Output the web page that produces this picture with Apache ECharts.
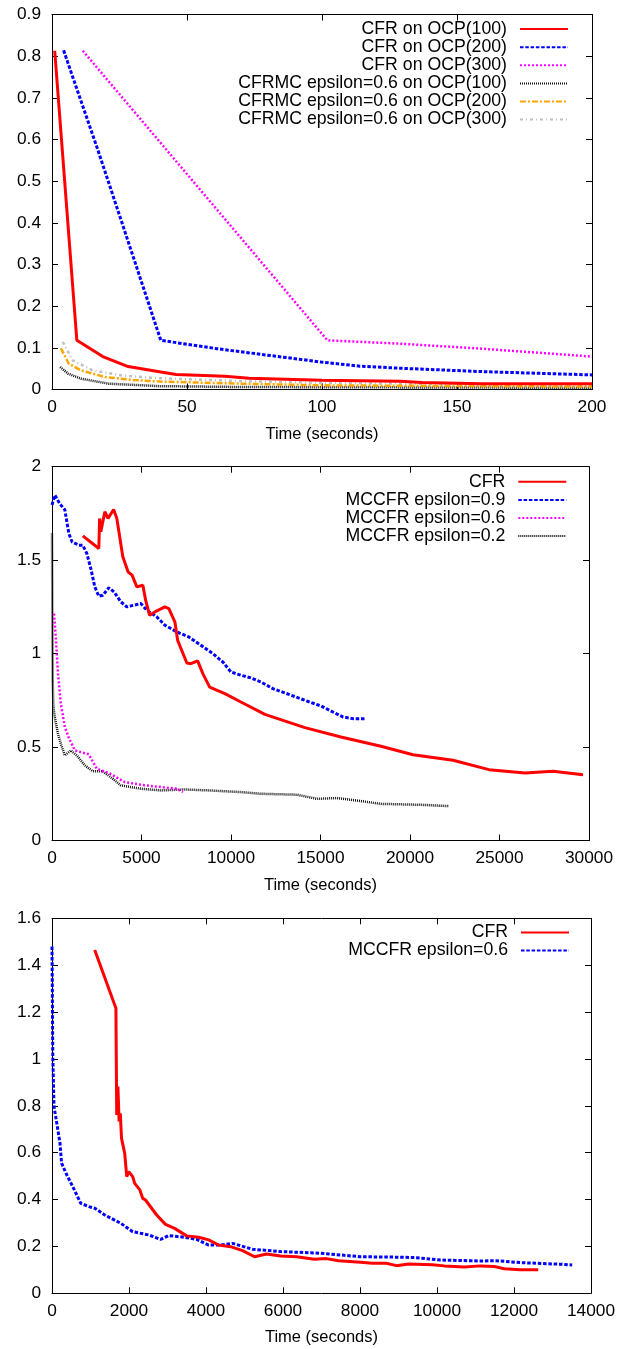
<!DOCTYPE html>
<html>
<head>
<meta charset="utf-8">
<script src="https://cdn.jsdelivr.net/npm/echarts@6/dist/echarts.min.js"></script>
<style>
  html, body { margin: 0; padding: 0; background: #fff; }
  #main { width: 628px; height: 1349px; }
</style>
</head>
<body>
<div id="main"></div>
<script>
// chart 1: OCP, seconds 0..200
var cfr100 = [[1, 0.813], [9.2, 0.118], [18.8, 0.079], [28.2, 0.055], [40.3, 0.042], [46, 0.036], [64, 0.032], [73, 0.027], [100, 0.022], [129, 0.020], [137, 0.017], [159, 0.014], [200, 0.014]];
var cfr200 = [[4.3, 0.814], [17.5, 0.565], [30, 0.32], [40.3, 0.118], [61, 0.098], [99.6, 0.066], [114, 0.056], [129, 0.051], [159, 0.043], [200, 0.035]];
var cfr300 = [[11.4, 0.813], [102, 0.118], [129, 0.110], [159, 0.098], [200, 0.079]];
var mc100 = [[3, 0.054], [6, 0.038], [10.7, 0.026], [21, 0.014], [40, 0.008], [70, 0.006], [200, 0.004]];
var mc200 = [[3.3, 0.099], [6.2, 0.062], [10.7, 0.046], [19.6, 0.030], [30, 0.023], [40, 0.019], [70, 0.014], [100, 0.010], [129, 0.009], [200, 0.007]];
var mc300 = [[4, 0.114], [7.7, 0.070], [15, 0.046], [25.5, 0.034], [40, 0.027], [70, 0.020], [100, 0.016], [129, 0.014], [200, 0.011]];

// chart 2: seconds 0..30000
var cfrB = [[1721, 1.630], [2616, 1.5625], [2660, 1.723], [2727, 1.652], [2951, 1.759], [3130, 1.723], [3443, 1.771], [3622, 1.723], [3957, 1.518], [4248, 1.4375], [4472, 1.42], [4740, 1.357], [5075, 1.366], [5231, 1.286], [5455, 1.205], [5746, 1.223], [6305, 1.25], [6529, 1.241], [6864, 1.17], [7020, 1.071], [7534, 0.95], [7758, 0.946], [8138, 0.961], [8428, 0.893], [8808, 0.821], [9658, 0.786], [10552, 0.741], [11893, 0.675], [14129, 0.604], [16141, 0.554], [18377, 0.504], [20166, 0.459], [22401, 0.429], [24413, 0.379], [26425, 0.361], [27990, 0.371], [29667, 0.352]];
var mc09 = [[0, 1.795], [156, 1.848], [447, 1.80], [715, 1.77], [939, 1.643], [1118, 1.598], [1498, 1.58], [1721, 1.58], [1945, 1.536], [2169, 1.455], [2392, 1.357], [2616, 1.307], [2839, 1.3125], [3175, 1.352], [3465, 1.33], [3845, 1.277], [4181, 1.25], [4963, 1.268], [5299, 1.232], [5858, 1.196], [6305, 1.152], [6975, 1.116], [7646, 1.089], [8317, 1.045], [8987, 1.0], [9546, 0.955], [9993, 0.902], [10552, 0.884], [11111, 0.87], [11670, 0.848], [12341, 0.8125], [13235, 0.782], [14129, 0.75], [15024, 0.72], [15695, 0.6875], [16253, 0.661], [16812, 0.652], [17527, 0.652]];
var mc06 = [[112, 1.214], [224, 1.071], [335, 0.893], [492, 0.732], [715, 0.607], [939, 0.55], [1274, 0.482], [1610, 0.473], [2057, 0.461], [2504, 0.384], [3175, 0.361], [4069, 0.3125], [5187, 0.295], [6081, 0.286], [6975, 0.277], [7310, 0.259]];
var mc02 = [[0, 1.643], [20, 1.2], [40, 0.85], [80, 0.714], [156, 0.66], [335, 0.571], [492, 0.518], [715, 0.455], [1051, 0.482], [1386, 0.455], [1833, 0.402], [2280, 0.37], [2839, 0.37], [3398, 0.33], [3845, 0.295], [4963, 0.277], [6081, 0.268], [7422, 0.273], [8764, 0.268], [10552, 0.259], [11670, 0.25], [13682, 0.245], [14800, 0.223], [15918, 0.227], [17260, 0.211], [18377, 0.196], [20613, 0.191], [22178, 0.184]];

// chart 3: seconds 0..14000
var cfrC = [[1110, 1.465], [1660, 1.216], [1681, 0.761], [1712, 0.882], [1743, 0.733], [1774, 0.768], [1806, 0.661], [1889, 0.597], [1941, 0.498], [1993, 0.519], [2096, 0.498], [2148, 0.469], [2283, 0.441], [2356, 0.405], [2428, 0.398], [2719, 0.334], [2947, 0.294], [3186, 0.277], [3497, 0.245], [3809, 0.239], [4068, 0.228], [4328, 0.206], [4639, 0.199], [4950, 0.182], [5262, 0.156], [5573, 0.168], [5936, 0.159], [6351, 0.156], [6818, 0.145], [7130, 0.148], [7441, 0.139], [8012, 0.132], [8323, 0.128], [8686, 0.128], [8946, 0.118], [9257, 0.125], [9880, 0.122], [10191, 0.117], [10710, 0.112], [11125, 0.117], [11489, 0.114], [11748, 0.105], [12163, 0.101], [12630, 0.1]];
var mcC = [[0, 1.48], [21, 1.01], [52, 0.797], [125, 0.725], [208, 0.64], [249, 0.555], [384, 0.505], [540, 0.455], [747, 0.384], [955, 0.37], [1110, 0.363], [1370, 0.334], [1785, 0.299], [2096, 0.263], [2511, 0.249], [2823, 0.23], [3030, 0.246], [3446, 0.239], [3757, 0.23], [4068, 0.206], [4380, 0.206], [4691, 0.213], [5210, 0.188], [5936, 0.178], [6974, 0.171], [8012, 0.156], [9049, 0.154], [9465, 0.152], [10087, 0.142], [11125, 0.138], [11540, 0.139], [12163, 0.131], [13201, 0.124], [13512, 0.121]];

var names1 = ['CFR on OCP(100)', 'CFR on OCP(200)', 'CFR on OCP(300)', 'CFRMC epsilon=0.6 on OCP(100)', 'CFRMC epsilon=0.6 on OCP(200)', 'CFRMC epsilon=0.6 on OCP(300)'];
var names2 = ['CFR', 'MCCFR epsilon=0.9', 'MCCFR epsilon=0.6', 'MCCFR epsilon=0.2'];
var names3 = ['CFR ', 'MCCFR epsilon=0.6 '];

var FONT = 'Liberation Sans, Arial, sans-serif';

var myChart = echarts.init(document.getElementById('main'));

function tickText(v) {
    return String(+v.toFixed(4));
}

function axisBase(grid, max, interval) {
    return {
        gridIndex: grid, type: 'value', min: 0, max: max, interval: interval,
        axisLine: { show: true, onZero: false, lineStyle: { color: '#000', width: 1 } },
        axisTick: { show: true, inside: true, length: 6, lineStyle: { color: '#000' } },
        splitLine: { show: false }
    };
}

function xAxes(grid, max, interval) {
    var bottom = echarts.util.merge({
        position: 'bottom',
        name: 'Time (seconds)', nameLocation: 'middle', nameGap: 36,
        nameTextStyle: { color: '#000', fontSize: 16.5, fontFamily: FONT },
        axisLabel: { color: '#000', fontSize: 17.3, fontFamily: FONT, margin: 9, formatter: tickText }
    }, axisBase(grid, max, interval), true);
    var top = echarts.util.merge({ position: 'top', axisLabel: { show: false } }, axisBase(grid, max, interval), true);
    return [bottom, top];
}

function yAxes(grid, max, interval) {
    var left = echarts.util.merge({
        position: 'left',
        axisLabel: { color: '#000', fontSize: 17.3, fontFamily: FONT, margin: 11, formatter: tickText }
    }, axisBase(grid, max, interval), true);
    var right = echarts.util.merge({ position: 'right', axisLabel: { show: false } }, axisBase(grid, max, interval), true);
    return [left, right];
}

function line(name, grid, data, color, width, dash) {
    return {
        name: name, type: 'line', xAxisIndex: grid * 2, yAxisIndex: grid * 2,
        data: data, symbol: 'none', smooth: false,
        lineStyle: { color: color, width: width, type: dash, cap: 'butt' },
        itemStyle: { color: color }
    };
}

function legend(names, top, right) {
    return {
        data: names, orient: 'vertical', align: 'right',
        right: right, top: top, padding: 0, itemGap: 0.1,
        itemWidth: 48, itemHeight: 10,
        itemStyle: { opacity: 0 },
        textStyle: { color: '#000', fontSize: 17.7, fontFamily: FONT, padding: [0, 8, 0, 0] },
        formatter: function (n) { return n.trim(); }
    };
}

var option = {
    animation: false,
    backgroundColor: '#fff',
    grid: [
        { left: 52, top: 14.5, width: 540, height: 375 },
        { left: 52, top: 466.7, width: 537, height: 373.8 },
        { left: 52, top: 918.3, width: 539, height: 375 }
    ],
    xAxis: [].concat(xAxes(0, 200, 50), xAxes(1, 30000, 5000), xAxes(2, 14000, 2000)),
    yAxis: [].concat(yAxes(0, 0.9, 0.1), yAxes(1, 2, 0.5), yAxes(2, 1.6, 0.2)),
    legend: [legend(names1, 20.1, 59), legend(names2, 472.8, 60.7), legend(names3, 923.4, 58)],
    series: [
        line(names1[3], 0, mc100, '#111', 2.5, [1, 1]),
        line(names1[5], 0, mc300, '#c0c0c0', 2.5, [3, 3, 1, 3]),
        line(names1[4], 0, mc200, '#ffa500', 2.5, [6, 2, 2, 2]),
        line(names1[2], 0, cfr300, '#ff00ff', 2.5, [2, 2]),
        line(names1[1], 0, cfr200, '#0000ff', 3, [3.5, 1.8]),
        line(names1[0], 0, cfr100, '#ff0000', 3, 'solid'),

        line(names2[3], 1, mc02, '#111', 2.5, [1, 1]),
        line(names2[2], 1, mc06, '#ff00ff', 2.5, [2, 2]),
        line(names2[1], 1, mc09, '#0000ff', 3, [3.5, 1.8]),
        line(names2[0], 1, cfrB, '#ff0000', 3, 'solid'),

        line(names3[1], 2, mcC, '#0000ff', 3, [3.5, 1.8]),
        line(names3[0], 2, cfrC, '#ff0000', 3, 'solid')
    ]
};
myChart.setOption(option);
</script>
</body>
</html>
